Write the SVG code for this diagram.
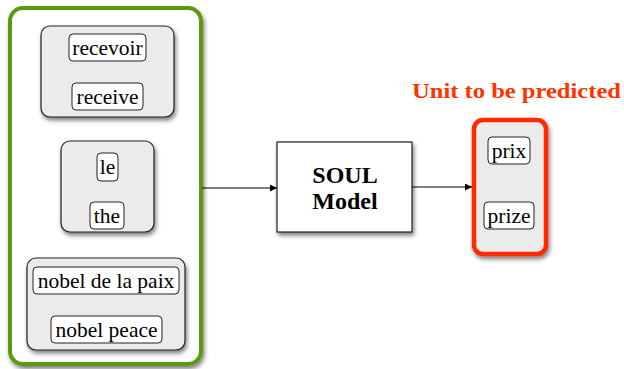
<svg xmlns="http://www.w3.org/2000/svg" width="624" height="369" viewBox="0 0 624 369">
<style>
.outer{fill:#fff;stroke:#5c9a0a;stroke-width:4}
.grp{fill:#ebebeb;stroke:#222;stroke-width:1.2}
.red{fill:#ebebeb;stroke:#ff2a00;stroke-width:4.5}
.w{fill:#fff;stroke:#222;stroke-width:1}
.t{font-family:"Liberation Serif",serif;font-size:21.5px;fill:#000;text-anchor:middle}
.b{font-family:"Liberation Serif",serif;font-size:24px;font-weight:bold;fill:#000;text-anchor:middle}
.lbl{font-family:"Liberation Serif",serif;font-size:22px;font-weight:bold;fill:#ff3300}
.soul{fill:#fff;stroke:#222;stroke-width:1.2}
.c{stroke:#000;stroke-width:1;fill:none}
</style>
<defs>
<filter id="sh" x="-20%" y="-20%" width="150%" height="150%">
<feDropShadow dx="1.5" dy="3" stdDeviation="2" flood-color="#000" flood-opacity="0.5"/>
</filter>
<marker id="ah" viewBox="0 0 10 10" refX="10" refY="5" markerWidth="8" markerHeight="7" orient="auto" markerUnits="userSpaceOnUse">
<path d="M0,0 L10,5 L0,10 z" fill="#000"/>
</marker>
</defs>
<g id="input-container">
<rect class="outer" x="10" y="8" width="191" height="356" rx="13" filter="url(#sh)"/>
</g>
<g id="group-receive">
<rect class="grp" x="41" y="26" width="133" height="91" rx="9" filter="url(#sh)"/>
<rect class="w" x="69" y="34" width="77" height="27" rx="4"/>
<text class="t" x="107.5" y="55">recevoir</text>
<rect class="w" x="72" y="83" width="71" height="27" rx="4"/>
<text class="t" x="107.5" y="104">receive</text>
</g>
<g id="group-the">
<rect class="grp" x="61" y="141" width="93" height="91" rx="9" filter="url(#sh)"/>
<rect class="w" x="97" y="153" width="21" height="28" rx="4"/>
<text class="t" x="107.5" y="174">le</text>
<rect class="w" x="90" y="202" width="34" height="27" rx="4"/>
<text class="t" x="107" y="223">the</text>
</g>
<g id="group-nobel">
<rect class="grp" x="27" y="258" width="158" height="92" rx="9" filter="url(#sh)"/>
<rect class="w" x="33" y="267" width="146" height="27" rx="4"/>
<text class="t" x="106" y="288">nobel de la paix</text>
<rect class="w" x="51" y="316" width="111" height="27" rx="4"/>
<text class="t" x="106.5" y="337">nobel peace</text>
</g>
<g id="soul-model">
<rect class="soul" x="277" y="142" width="135" height="90" filter="url(#sh)"/>
<text class="b" x="345" y="183">SOUL</text>
<text class="b" x="345" y="209">Model</text>
</g>
<g id="prediction">
<text class="lbl" x="412" y="98" textLength="209" lengthAdjust="spacingAndGlyphs">Unit to be predicted</text>
<rect class="red" x="474" y="120" width="72" height="134" rx="9" filter="url(#sh)"/>
<rect class="w" x="488" y="137" width="42" height="27" rx="4"/>
<text class="t" x="509" y="158">prix</text>
<rect class="w" x="484" y="202" width="50" height="27" rx="4"/>
<text class="t" x="509" y="223">prize</text>
</g>
<g id="connectors">
<line class="c" x1="202" y1="188" x2="277" y2="188" marker-end="url(#ah)"/>
<line class="c" x1="412" y1="187" x2="472" y2="187" marker-end="url(#ah)"/>
</g>
</svg>
